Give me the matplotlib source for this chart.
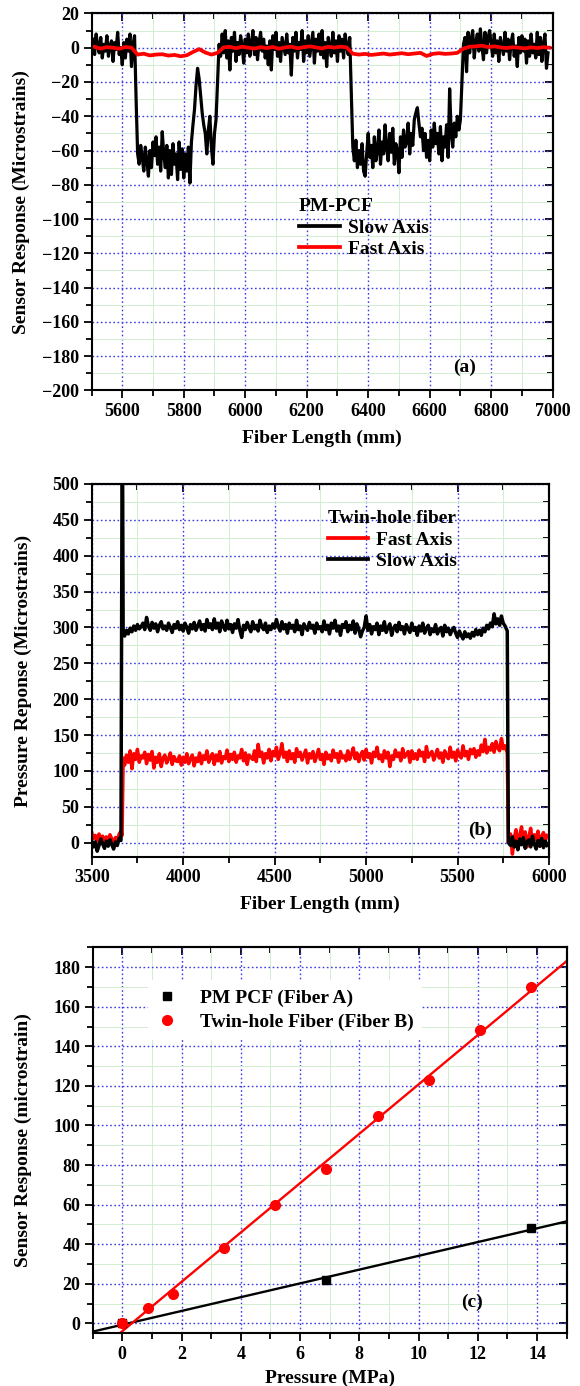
import numpy as np
import matplotlib.pyplot as plt
from matplotlib.ticker import MultipleLocator, NullFormatter

plt.rcParams['font.family'] = ['Liberation Serif', 'DejaVu Serif']
plt.rcParams['font.weight'] = 'bold'
plt.rcParams['axes.labelweight'] = 'bold'

# ---- panel (a): PM-PCF distributed response ----
a_slow_x = np.arange(5505, 6990, 5)
a_slow = [5, -4, 8, 1, -3, 6, -6, 2, -2, 7,
          -5, 1, 4, -8, 3, -1, 9, -4, 0, -10,
          3, -6, 5, -2, 8, -11, 2, 7, -30, -62,
          -68, -57, -64, -72, -58, -66, -75, -60, -70, -55,
          -63, -52, -68, -58, -72, -49, -62, -70, -57, -76,
          -60, -74, -56, -68, -62, -77, -55, -71, -59, -76,
          -62, -72, -58, -79, -55, -45, -36, -22, -12, -18,
          -28, -38, -45, -50, -62, -48, -40, -58, -68, -50,
          -42, -20, 2, -5, 8, -3, 10, -6, 4, -13,
          6, -2, 9, -8, 3, -4, 7, 1, -9, 5,
          -3, 8, -5, 2, 10, -4, 6, -7, 3, 9,
          -2, 5, -6, 1, -10, 4, -13, 7, -1, 9,
          -5, 3, -8, 6, 1, -4, 8, -3, 2, -16,
          6, -2, 9, -6, 3, -1, 10, -8, 4, -3,
          7, -5, 2, 9, -9, 5, -2, 8, -4, 10,
          -6, 3, -11, 6, 1, -5, 9, -3, 4, -8,
          7, -2, 5, -6, 8, 1, -4, 6, -25, -58,
          -66, -54, -70, -60, -68, -56, -72, -75, -62, -50,
          -64, -57, -70, -52, -66, -60, -48, -68, -55, -62,
          -45, -58, -66, -50, -61, -47, -68, -56, -60, -73,
          -52, -64, -48, -58, -55, -44, -62, -50, -57, -42,
          -38, -35, -44, -52, -47, -60, -50, -64, -54, -66,
          -48, -58, -44, -56, -50, -62, -46, -66, -52, -58,
          -45, -64, -24, -50, -58, -44, -52, -40, -48, -42,
          -20, 2, 6, -14, 9, -3, 5, 10, -6, 3,
          8, -2, 11, 1, -7, 9, -3, 6, 10, 2,
          -5, 8, -3, 4, -8, 6, 1, -4, 9, -2,
          5, -7, 3, 8, -5, 1, -11, 6, -3, 7,
          -2, 5, -9, 4, -5, 8, -3, 2, -6, 9,
          -4, 6, -8, 2, 8, -12, -3]
a_fast_x = np.arange(5510, 7000, 20)
a_fast = [0.5, -0.5, 0.3, 0, -0.6, 0.4, 0,
          -4, -3.5, -4.5, -4, -3.8, -4.6, -4.2, -5, -4.4, -2.5, -0.8, -2.8, -4, -3,
          0.2, 0.5, -0.3, 0.6, 0, -0.5, 0.3, -0.2, 0.4, -0.6,
          0.2, 0.6, -0.3, 0.3, 0.8, 0.2, -0.4, 0.5, 0.1, 0.6, 0.2,
          -3.5, -4, -3.6, -4.2, -3.8, -3.4, -4, -3.6, -3.2, -3.8,
          -3.4, -3, -4.8, -3.6, -3.2, -3.6, -3.4, -3,
          -0.5, 0.6, 0.8, 1.2, 0.4, 0.8, 0.2, -0.2, 0.3, 0, -0.4, 0.2, -0.2, 0.3, 0]

# ---- panel (b): twin-hole fiber distributed response ----
b_x = np.r_[np.arange(3500, 3661, 10), [3666, 3669, 3672],
            np.arange(3680, 5761, 10), [5772, 5778],
            np.arange(5790, 6000, 10)]
b_slow = [3, -6, 1, -12, -4, 5, -2, -8, 2, -5, 4, -3, -9, 1, -4, 6, 3,
          520, 520, 290,
          288, 296, 291, 299, 294, 302, 296, 304, 298, 301,
          306, 297, 314, 302, 296, 307, 299, 305, 294, 303,
          308, 298, 302, 296, 306, 300, 293, 304, 299, 308,
          297, 303, 295, 306, 300, 292, 304, 298, 307, 296,
          302, 309, 297, 304, 295, 311, 300, 305, 297, 312,
          299, 306, 294, 309, 301, 296, 310, 298, 304, 293,
          305, 299, 311, 296, 286, 303, 297, 307, 300, 294,
          308, 298, 303, 295, 310, 301, 297, 306, 293, 302,
          297, 305, 299, 311, 301, 295, 308, 298, 304, 292,
          306, 299, 303, 294, 310, 297, 302, 290, 305, 300,
          296, 307, 299, 303, 292, 306, 298, 301, 294, 309,
          297, 303, 291, 306, 299, 310, 295, 302, 289, 304,
          300, 308, 294, 303, 297, 309, 292, 305, 298, 287,
          295, 300, 316, 296, 304, 291, 301, 297, 306, 290,
          302, 296, 308, 293, 300, 305, 289, 299, 303, 294,
          307, 297, 301, 291, 304, 298, 293, 306, 296, 300,
          289, 302, 295, 306, 292, 299, 303, 290, 298, 294,
          304, 291, 297, 300, 288, 303, 294, 299, 290, 296,
          300, 292, 286, 295, 289, 284, 294, 287, 291, 285,
          293, 288, 297, 290, 296, 289, 299, 294, 303, 298,
          306, 301, 319, 305, 312, 303, 316, 306, 302,
          295, 0,
          -4, 8, -6, 2, -10, 5, -3, 7, -8, 1, 4, -6, 9, -2, -9, 3, -5, 6, -7, 2, -4]
b_fast = [14, 6, 10, 2, 12, 4, 9, 0, 8, 3, 11, 5, 1, 7, 2, 12, 16,
          10, 70, 118,
          108, 122, 112, 128, 103, 124, 116, 130, 112, 121,
          118, 126, 110, 123, 115, 127, 104, 119, 112, 124,
          106, 118, 122, 111, 117, 125, 109, 120, 114, 113,
          121, 108, 119, 112, 124, 110, 117, 122, 107, 118,
          113, 125, 110, 121, 116, 128, 112, 119, 124, 109,
          122, 114, 127, 111, 120, 117, 129, 113, 123, 116,
          126, 112, 121, 118, 130, 114, 125, 109, 122, 119,
          116, 128, 113, 137, 120, 126, 111, 124, 118, 130,
          114, 127, 121, 133, 116, 124, 138, 119, 126, 113,
          128, 117, 124, 112, 131, 120, 126, 115, 122, 129,
          111, 124, 118, 127, 113, 121, 130, 116, 123, 109,
          126, 117, 122, 114, 129, 119, 124, 112, 127, 118,
          121, 114, 128, 116, 123, 132, 117, 125, 113, 122,
          127, 115, 130, 119, 124, 111, 126, 120, 133, 117,
          122, 113, 128, 118, 126, 106, 121, 116, 129, 120,
          125, 114, 131, 119, 123, 127, 112, 128, 117, 124,
          116, 129, 121, 126, 113, 134, 119, 124, 127, 115,
          122, 130, 118, 125, 112, 128, 121, 117, 133, 119,
          126, 114, 129, 122, 118, 135, 121, 127, 116, 130,
          124, 131, 119, 128, 122, 136, 127, 144, 125, 133,
          129, 138, 126, 141, 132, 128, 145, 131, 135,
          125, 0,
          12, -16, 6, 18, -4, 10, 22, 2, 15, -6, 8, 20, -2, 11, 4, 16, -5, 9, 14, 3, 10]

# ---- panel (c): pressure calibration ----
fibA_p = [0, 6.89, 13.79]
fibA_r = [0, 22, 48]
fibB_p = [0, 0.86, 1.72, 3.45, 5.17, 6.89, 8.62, 10.34, 12.07, 13.79]
fibB_r = [0, 8, 15, 38, 60, 78, 105, 123, 148, 170]

TICK_FS = 13
LAB_FS = 14

fig = plt.figure(figsize=(5.8, 13.86), dpi=100)
ax_a = fig.add_axes([0.1578, 0.7183, 0.795, 0.272])
ax_b = fig.add_axes([0.1581, 0.3817, 0.7884, 0.2691])
ax_c = fig.add_axes([0.1597, 0.0380, 0.8174, 0.2785])


def style(ax, xmaj, xmin, ymaj, ymin):
    ax.xaxis.set_major_locator(MultipleLocator(xmaj))
    ax.xaxis.set_minor_locator(MultipleLocator(xmin))
    ax.yaxis.set_major_locator(MultipleLocator(ymaj))
    ax.yaxis.set_minor_locator(MultipleLocator(ymin))
    ax.set_axisbelow(True)
    ax.grid(which='minor', color='#d2eed2', lw=0.7, ls='-')
    ax.grid(which='major', color='#3d3de6', lw=1.0, ls=(0, (1.2, 1.8)))
    ax.tick_params(which='both', direction='out', width=1.3, labelsize=TICK_FS, pad=3)
    ax.tick_params(which='major', length=6)
    ax.tick_params(which='minor', length=4)
    for s in ax.spines.values():
        s.set_linewidth(1.5)
    top = ax.secondary_xaxis('top')
    top.xaxis.set_major_locator(MultipleLocator(xmaj))
    top.xaxis.set_minor_locator(MultipleLocator(xmin))
    top.xaxis.set_major_formatter(NullFormatter())
    top.tick_params(which='both', direction='in', width=1.3)
    top.tick_params(which='major', length=6)
    top.tick_params(which='minor', length=4)
    top.spines['top'].set_linewidth(1.5)
    right = ax.secondary_yaxis('right')
    right.yaxis.set_major_locator(MultipleLocator(ymaj))
    right.yaxis.set_minor_locator(MultipleLocator(ymin))
    right.yaxis.set_major_formatter(NullFormatter())
    right.tick_params(which='both', direction='in', width=1.3)
    right.tick_params(which='major', length=6)
    right.tick_params(which='minor', length=4)
    right.spines['right'].set_linewidth(1.5)


# (a)
ax_a.plot(a_slow_x, a_slow, color='black', lw=2.3, label='Slow Axis')
ax_a.plot(a_fast_x, a_fast, color='red', lw=2.7, label='Fast Axis')
ax_a.set_xlim(5500, 7000)
ax_a.set_ylim(-200, 20)
style(ax_a, 200, 100, 20, 10)
ax_a.set_xlabel('Fiber Length (mm)', fontsize=LAB_FS)
ax_a.set_ylabel('Sensor Response (Microstrains)', fontsize=LAB_FS)
ax_a.xaxis.set_label_coords(0.5, -0.105)
ax_a.yaxis.set_label_coords(-0.133, 0.5)
leg = ax_a.legend(title='PM-PCF', loc='upper left', bbox_to_anchor=(0.45, 0.51),
                  frameon=False, fontsize=LAB_FS, title_fontsize=LAB_FS, handlelength=2.1,
                  handletextpad=0.4, borderpad=0, borderaxespad=0, labelspacing=0.2,
                  alignment='left')
for ln in leg.get_lines():
    ln.set_linewidth(2.7)
ax_a.text(0.808, 0.062, '(a)', transform=ax_a.transAxes, ha='center', va='center',
          fontsize=LAB_FS)

# (b)
ax_b.plot(b_x, b_fast, color='red', lw=2.5, label='Fast Axis')
ax_b.plot(b_x, b_slow, color='black', lw=2.5, label='Slow Axis')
ax_b.set_xlim(3500, 6000)
ax_b.set_ylim(-20, 500)
style(ax_b, 500, 250, 50, 25)
ax_b.set_xlabel('Fiber Length (mm)', fontsize=LAB_FS)
ax_b.set_ylabel('Pressure Reponse (Microstrains)', fontsize=LAB_FS)
ax_b.xaxis.set_label_coords(0.5, -0.104)
ax_b.yaxis.set_label_coords(-0.131, 0.5)
leg = ax_b.legend(title='Twin-hole fiber', loc='upper left', bbox_to_anchor=(0.516, 0.93),
                  frameon=False, fontsize=LAB_FS, title_fontsize=LAB_FS, handlelength=2.1,
                  handletextpad=0.4, borderpad=0, borderaxespad=0, labelspacing=0.2,
                  alignment='left')
for ln in leg.get_lines():
    ln.set_linewidth(2.7)
ax_b.text(0.85, 0.072, '(b)', transform=ax_b.transAxes, ha='center', va='center',
          fontsize=LAB_FS)

# (c)
fit_x = np.array([-1, 15])
kA = np.polyfit(fibA_p, fibA_r, 1)
kB = np.polyfit(fibB_p, fibB_r, 1)
ax_c.plot(fit_x, np.polyval(kA, fit_x), color='black', lw=1.7)
ax_c.plot(fit_x, np.polyval(kB, fit_x), color='red', lw=1.7)
ax_c.plot(fibA_p, fibA_r, 's', color='black', ms=5.5, label='PM PCF (Fiber A)')
ax_c.plot(fibB_p, fibB_r, 'o', color='red', ms=7, label='Twin-hole Fiber (Fiber B)')
ax_c.set_xlim(-1, 15)
ax_c.set_ylim(-5, 190)
style(ax_c, 2, 1, 20, 10)
ax_c.set_xlabel('Pressure (MPa)', fontsize=LAB_FS)
ax_c.set_ylabel('Sensor Response (microstrain)', fontsize=LAB_FS)
ax_c.xaxis.set_label_coords(0.5, -0.095)
ax_c.yaxis.set_label_coords(-0.127, 0.5)
leg = ax_c.legend(loc='upper left', bbox_to_anchor=(0.117, 0.915), frameon=True,
                  facecolor='white', edgecolor='none', framealpha=1, fancybox=False,
                  fontsize=LAB_FS, numpoints=1, handlelength=1.0, handletextpad=1.2,
                  borderpad=0.45, borderaxespad=0, labelspacing=0.35)
ax_c.text(0.80, 0.079, '(c)', transform=ax_c.transAxes, ha='center', va='center',
          fontsize=LAB_FS)

fig.savefig('out.png', dpi=100)
